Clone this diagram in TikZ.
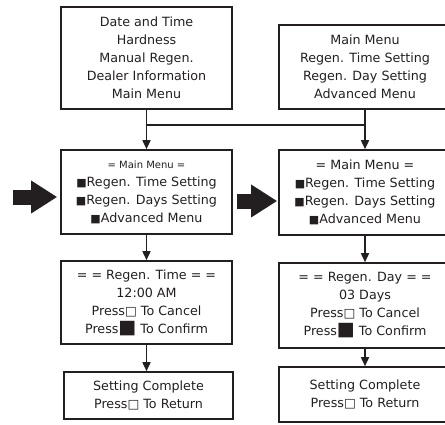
\documentclass[tikz,border=0pt]{standalone}
\usepackage{xcolor}
\usepackage{fontspec}
\setmainfont{DejaVu Sans}
\usepackage{tikz}
\usetikzlibrary{positioning,calc,arrows.meta}

\definecolor{ink}{HTML}{231F20}
\newcommand{\sqon}{{\fontsize{11}{11}\selectfont ■}}
\newcommand{\sqoff}{{\fontsize{12.5}{12.5}\selectfont □}}
\newcommand{\sqbig}{{\fontsize{19}{19}\selectfont ■}}

\begin{document}
\begin{tikzpicture}[
    x=1pt, y=-1pt,
    font=\fontsize{12.7}{18}\selectfont,
    box/.style={rectangle, draw=ink, text=ink, line width=1.6pt, align=center, inner sep=0pt},
    arrow/.style={-{Triangle[length=9pt, width=8pt]}, line width=1.6pt, draw=ink},
    link/.style={line width=1.6pt, draw=ink},
    bigarrow/.style={-{Triangle[length=26pt, width=31pt]}, line width=15pt, draw=ink}
]
    \clip (0,0) rectangle (445,424);

    \node[box, minimum width=171pt, minimum height=102pt] (topL) at (146.5,58) {Date and Time\\Hardness\\Manual Regen.\\Dealer Information\\Main Menu};
    \node[box, minimum width=172pt, minimum height=84pt] (topR) at (365,67) {Main Menu\\Regen. Time Setting\\Regen. Day Setting\\Advanced Menu};

    \node[box, minimum width=171pt, minimum height=84pt, below=39.4pt of topL] (menuL) {{\fontsize{10}{10}\selectfont = Main Menu =}\\\sqon Regen. Time Setting\\\sqon Regen. Days Setting\\\sqon Advanced Menu};
    \node[box, minimum width=172pt, minimum height=85pt, below=39.4pt of topR] (menuR) {= Main Menu =\\\sqon Regen. Time Setting\\\sqon Regen. Days Setting\\\sqon Advanced Menu};

    \node[box, minimum width=171pt, minimum height=83pt, below=25.4pt of menuL] (timeL) {= = Regen. Time = =\\12:00 AM\\Press\sqoff{} To Cancel\\Press\sqbig{} To Confirm};
    \node[box, minimum width=172pt, minimum height=85pt, below=26.4pt of menuR] (dayR) {= = Regen. Day = =\\03 Days\\Press\sqoff{} To Cancel\\Press\sqbig{} To Confirm};

    \node[box, minimum width=169pt, minimum height=47pt, below=26.4pt of timeL, xshift=2pt] (doneL) {Setting Complete\\Press\sqoff{} To Return};
    \node[box, minimum width=172pt, minimum height=55pt, below=17.4pt of dayR] (doneR) {Setting Complete\\Press\sqoff{} To Return};

    \draw[arrow] (topL) -- (menuL);
    \draw[link] (topR.south) |- ($(topL.south)+(0,15)$);
    \draw[arrow] (topR) -- (menuR);
    \draw[arrow] (menuL) -- (timeL);
    \draw[arrow] (timeL.south) -- (timeL.south |- doneL.north);
    \draw[arrow] (menuR) -- (dayR);
    \draw[arrow] (dayR) -- (doneR);

    % entry arrows
    \coordinate (pushL) at (13,197);
    \coordinate (pushR) at (237,201);
    \draw[bigarrow, shorten >=3pt] (pushL) -- (pushL -| menuL.west);
    \draw[bigarrow, shorten >=1pt] (pushR) -- (pushR -| menuR.west);
\end{tikzpicture}
\end{document}
